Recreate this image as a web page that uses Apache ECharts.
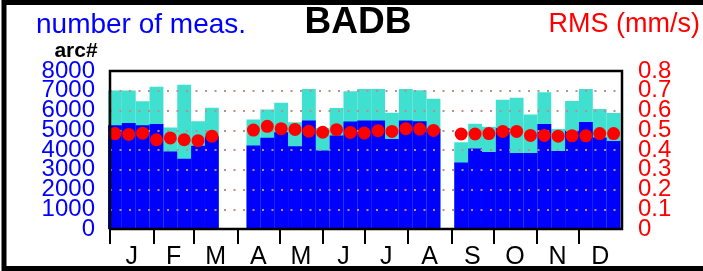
<!DOCTYPE html>
<html>
<head>
<meta charset="utf-8">
<title>BADB</title>
<script src="https://cdn.jsdelivr.net/npm/echarts@6/dist/echarts.min.js"></script>
<style>
  html, body { margin: 0; padding: 0; background: #ffffff; }
  #chart { width: 703px; height: 271px; }
</style>
</head>
<body>
<div id="chart"></div>
<script>
// ~10 day bins over a leap year, three gaps without data
const binCount = 37;
const totalArcs = [7010, 7010, 6470, 7200, 5140, 7310, 5460, 6140, null, null,
  5550, 6050, 6390, 5400, 7090, 5120, 6130, 6980, 7090, 7090, 5880, 7090, 7030, 6590, null,
  4390, 5330, 5180, 6540, 6650, 5800, 6920, 5060, 6480, 7090, 6070, 5870];
const usedArcs = [5250, 5370, 5250, 5320, 3920, 3560, 4210, 4680, null, null,
  4230, 4620, 4900, 4190, 5490, 3980, 4730, 5440, 5490, 5500, 4560, 5500, 5450, 5070, null,
  3370, 4070, 3900, 5100, 3850, 3850, 5320, 3950, 4970, 5420, 4630, 4460];
const rms = [0.483, 0.479, 0.485, 0.452, 0.461, 0.452, 0.447, 0.470, null, null,
  0.501, 0.520, 0.508, 0.504, 0.495, 0.490, 0.503, 0.489, 0.486, 0.498, 0.494, 0.508, 0.506, 0.499, null,
  0.481, 0.481, 0.483, 0.494, 0.494, 0.474, 0.474, 0.470, 0.472, 0.472, 0.483, 0.483];

const months = ['J', 'F', 'M', 'A', 'M', 'J', 'J', 'A', 'S', 'O', 'N', 'D'];
const monthStarts = [0, 31, 60, 91, 121, 152, 182, 213, 244, 274, 305, 335];
const monthMids = [15.5, 45.5, 75.5, 106, 136.5, 167, 197.5, 228.5, 259, 289.5, 320, 350.5];
const yearDays = 366;

// tick labels, split in two sets so the tightly packed labels never collide
const countTicksEven = [0, 2000, 4000, 6000, 8000];
const countTicksOdd = [1000, 3000, 5000, 7000];
const rmsTicksEven = [0, 0.2, 0.4, 0.6, 0.8];
const rmsTicksOdd = [0.1, 0.3, 0.5, 0.7];

const FONT = '"Liberation Sans", Arial, sans-serif';
const BLUE = '#0000ff';
const CYAN = '#40e0d0';
const RED = '#ff0000';

// plot box
const P = { left: 110, top: 71, width: 512, height: 158 };

const bins = [];
for (let i = 0; i < binCount; i++) bins.push(String(i));

const chart = echarts.init(document.getElementById('chart'), null, { renderer: 'canvas' });

function countAxis(grid, ticks, extra) {
  return Object.assign({
    gridIndex: grid, type: 'value', position: 'left', min: 0, max: 8000, interval: 1000,
    axisLine: { show: false }, axisTick: { show: false }, splitLine: { show: false },
    axisLabel: {
      customValues: ticks, margin: 15, fontFamily: FONT, fontSize: 24, color: BLUE,
      showMinLabel: true, showMaxLabel: true, formatter: v => String(v)
    }
  }, extra || {});
}

function rmsAxis(grid, ticks) {
  return {
    gridIndex: grid, type: 'value', position: 'right', min: 0, max: 0.8, interval: 0.1,
    axisLine: { show: false }, axisTick: { show: false }, splitLine: { show: false },
    axisLabel: {
      customValues: ticks, margin: 16, fontFamily: FONT, fontSize: 24, color: RED,
      showMinLabel: true, showMaxLabel: true, formatter: v => String(+v.toFixed(1))
    }
  };
}

chart.setOption({
  animation: false,
  backgroundColor: '#ffffff',
  grid: [
    { left: P.left, top: P.top, width: P.width, height: P.height },
    // bars sit ~2px left of the month scale in the original
    { left: P.left - 2, top: P.top, width: P.width + 0.5, height: P.height },
    { left: P.left, top: P.top, width: P.width, height: P.height }
  ],
  xAxis: [
    {
      gridIndex: 0, type: 'value', min: 0, max: yearDays,
      axisLine: { show: false },
      splitLine: { show: false },
      axisTick: {
        show: true, length: 15, customValues: monthStarts,
        lineStyle: { color: '#000', width: 2 }
      },
      axisLabel: {
        customValues: monthMids, margin: 16,
        fontFamily: FONT, fontSize: 25, color: '#000',
        formatter: v => months[monthMids.indexOf(v)] || ''
      }
    },
    { gridIndex: 1, type: 'category', data: bins, show: false, boundaryGap: true },
    { gridIndex: 2, type: 'value', min: 0, max: yearDays, show: false }
  ],
  yAxis: [
    countAxis(0, countTicksEven, {
      z: 4,
      splitLine: { show: true, lineStyle: { color: '#bc8f8f', width: 2, type: [2, 7.5] } }
    }),
    rmsAxis(0, rmsTicksEven),
    { gridIndex: 1, type: 'value', min: 0, max: 8000, show: false },
    { gridIndex: 1, type: 'value', min: 0, max: 0.8, show: false },
    countAxis(2, countTicksOdd),
    rmsAxis(2, rmsTicksOdd)
  ],
  series: [
    {
      name: 'arcs', type: 'bar', xAxisIndex: 1, yAxisIndex: 2,
      data: totalArcs, barWidth: '100%', barGap: '-100%', z: 2,
      itemStyle: { color: CYAN }
    },
    {
      name: 'used', type: 'bar', xAxisIndex: 1, yAxisIndex: 2,
      data: usedArcs, barWidth: '100%', barGap: '-100%', z: 2,
      itemStyle: { color: BLUE }
    },
    {
      name: 'RMS', type: 'scatter', xAxisIndex: 1, yAxisIndex: 3,
      data: rms, symbolSize: 13, z: 6,
      itemStyle: { color: RED, opacity: 1 }
    }
  ],
  graphic: [
    {
      type: 'rect', z: 100, silent: true,
      shape: { x: P.left, y: P.top, width: P.width, height: P.height },
      style: { fill: null, stroke: '#000', lineWidth: 2.5 }
    },
    {
      type: 'rect', z: 100, silent: true,
      shape: { x: 4, y: 2.5, width: 720, height: 266 },
      style: { fill: null, stroke: '#000', lineWidth: 5 }
    },
    {
      type: 'text', z: 100, x: 36, y: 25,
      style: { text: 'number of meas.', font: '28px ' + FONT, fill: BLUE, textVerticalAlign: 'middle' }
    },
    {
      type: 'text', z: 100, x: 358, y: 23,
      style: { text: 'BADB', font: 'bold 37px ' + FONT, fill: '#000', textAlign: 'center', textVerticalAlign: 'middle' }
    },
    {
      type: 'text', z: 100, x: 700, y: 25,
      style: { text: 'RMS (mm/s)', font: '27px ' + FONT, fill: RED, textAlign: 'right', textVerticalAlign: 'middle' }
    },
    {
      type: 'text', z: 100, x: 76, y: 51,
      style: { text: 'arc#', font: 'bold 21px ' + FONT, fill: '#000', textAlign: 'center', textVerticalAlign: 'middle' }
    }
  ]
});
</script>
</body>
</html>
